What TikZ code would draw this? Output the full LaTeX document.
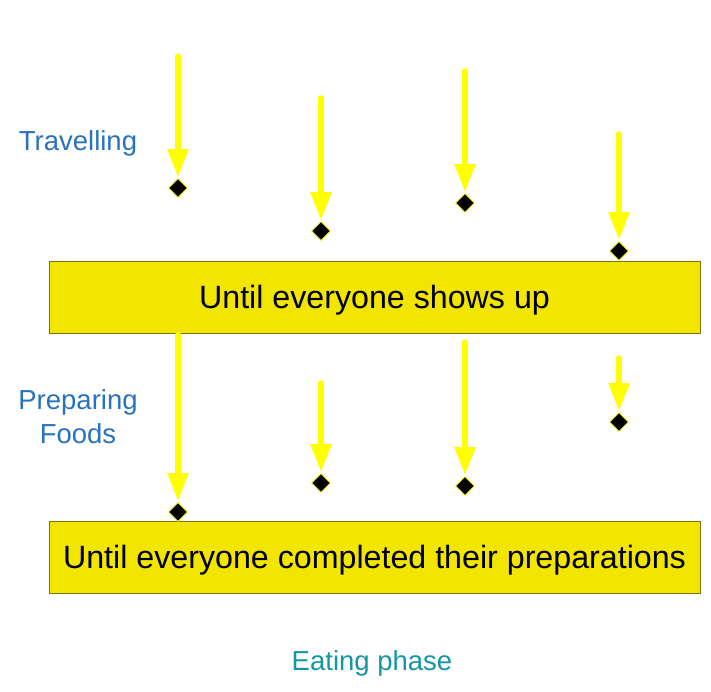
\documentclass[tikz,border=0pt]{standalone}
\usepackage{fontspec}
\setmainfont{Liberation Sans}
\usepackage{tikz}
\usetikzlibrary{arrows.meta, shapes.geometric}

\definecolor{boxfill}{RGB}{242,229,0}
\definecolor{boxline}{RGB}{125,115,20}
\definecolor{labelblue}{RGB}{40,114,190}
\definecolor{labelteal}{RGB}{20,150,165}
\definecolor{arrowyellow}{RGB}{255,255,0}

\begin{document}
\begin{tikzpicture}[x=1pt, y=-1pt,
    phase/.style={draw=boxline, line width=0.9pt, fill=boxfill, minimum width=651, minimum height=72, inner sep=0, text depth=2pt, font=\fontsize{32.2}{38}\selectfont},
    side/.style={text=labelblue, align=center, font=\fontsize{27.5}{34}\selectfont},
    arrival/.style={shape=diamond, fill=black, draw=arrowyellow, line width=0.8pt, minimum width=19, minimum height=19, inner sep=0},
    flow/.style={arrowyellow, line width=5.5pt, line cap=round, -{Triangle[width=20pt, length=28pt]}, shorten >=1pt}]
    \useasboundingbox (0,0) rectangle (711,692);
    \node[side] (travel) at (78,143) {Travelling};
    \node[side] (prep) at (78,417) {Preparing\\Foods};
    \node[phase] (arrive) at (374.5,297.5) {Until everyone shows up};
    \node[phase] (ready) at (374.5,557.5) {Until everyone completed their preparations};
    \node[text=labelteal, font=\fontsize{27.5}{34}\selectfont] (eat) at (372,663) {Eating phase};
    % travelling
    \foreach \i/\x/\ys/\yd in {1/178/56/188, 2/321/98/231, 3/465/71/203, 4/619/134/251} {
        \coordinate (ts\i) at (\x,\ys);
        \node[arrival] (td\i) at (\x,\yd) {};
        \draw[flow] (ts\i) -- (td\i.north);
    }
    % preparing
    \foreach \i/\x/\ys/\yd in {1/178/335/512, 2/321/383/483, 3/465/342/486, 4/619/358/422} {
        \coordinate (ps\i) at (\x,\ys);
        \node[arrival] (pd\i) at (\x,\yd) {};
        \draw[flow] (ps\i) -- (pd\i.north);
    }
\end{tikzpicture}
\end{document}
